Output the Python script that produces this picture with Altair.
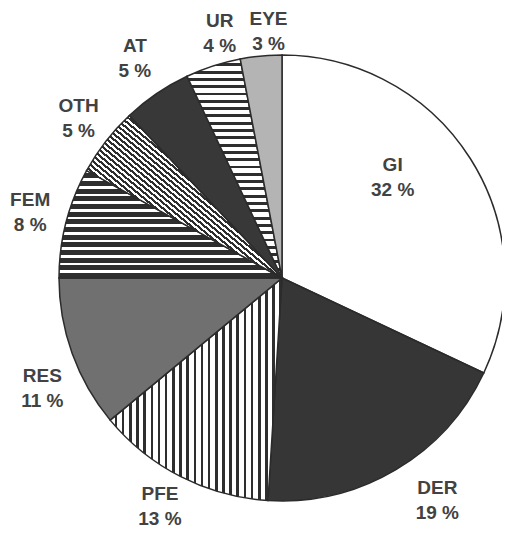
import math
import altair as alt
import pandas as pd

# ---- data ----
categories = ["GI", "DER", "PFE", "RES", "FEM", "OTH", "AT", "UR", "EYE"]
values = [32, 19, 13, 11, 8, 5, 5, 4, 3]
pct_labels = ["32 %", "19 %", "13 %", "11 %", "8 %", "5 %", "5 %", "4 %", "3 %"]

df = pd.DataFrame({
    "cat": categories,
    "value": values,
    "pct": pct_labels,
    "order": list(range(len(categories))),
})

# ---- style ----
CX, CY, R = 274, 270, 223
LINE = "#2b2b2b"
TEXT = "#424242"
FONT = "Liberation Sans"
HALF_GAP = 12.5

# label placement: radius from the centre and small nudges (dx, dy) in pixels
label_style = {
    "GI": (150, -16, -20),
    "DER": (260, 23, -1),
    "PFE": (260, -4, -3),
    "RES": (260, 5, 22),
    "FEM": (260, 0, -1),
    "OTH": (260, 2, 0),
    "AT": (260, -1, -4),
    "UR": (260, 18, 3),
    "EYE": (260, 11, 12),
}


def stripes(n, dark_frac, light="#ffffff", dark="#2e2e2e", **vec):
    stops = []
    for i in range(n):
        a = i / n
        b = (i + 1 - dark_frac) / n
        c = (i + 1) / n
        stops += [
            alt.GradientStop(offset=a, color=light),
            alt.GradientStop(offset=b, color=light),
            alt.GradientStop(offset=b, color=dark),
            alt.GradientStop(offset=c, color=dark),
        ]
    return alt.LinearGradient(gradient="linear", stops=stops, **vec)


fills = {
    "GI": "#ffffff",
    "DER": "#363636",
    "PFE": stripes(24, 0.36, x1=0, y1=0, x2=1, y2=0),
    "RES": "#707070",
    "FEM": stripes(14, 0.65, x1=0, y1=0, x2=0, y2=1),
    "OTH": stripes(58, 0.5, x1=0, y1=1, x2=1, y2=0),
    "AT": "#383838",
    "UR": stripes(30, 0.4, x1=0, y1=0, x2=0, y2=1),
    "EYE": "#b4b4b4",
}

theta_scale = alt.Scale(domain=[0, 100], range=[0, 2 * math.pi])

base = (
    alt.Chart(df)
    .transform_window(cum="sum(value)", sort=[alt.SortField("order")])
    .transform_calculate(start="datum.cum - datum.value",
                         mid="datum.cum - datum.value / 2")
)

layers = []
for c in categories:
    layers.append(
        base.transform_filter(alt.datum.cat == c)
        .mark_arc(radius=R, fill=fills[c], stroke=LINE, strokeWidth=1.5)
        .encode(
            theta=alt.Theta("start:Q", scale=theta_scale),
            theta2="cum:Q",
            x=alt.value(CX),
            y=alt.value(CY),
        )
    )

text_kw = dict(font=FONT, fontSize=19, fontWeight="bold", fill=TEXT,
               align="center", baseline="middle")

for c in categories:
    r, dx, dy = label_style[c]
    for field, off in (("cat", -HALF_GAP), ("pct", HALF_GAP)):
        layers.append(
            base.transform_filter(alt.datum.cat == c)
            .mark_text(radius=r, dx=dx, dy=dy + off, **text_kw)
            .encode(
                theta=alt.Theta("mid:Q", scale=theta_scale),
                text=f"{field}:N",
                x=alt.value(CX),
                y=alt.value(CY),
            )
        )

chart = (
    alt.layer(*layers)
    .properties(width=494, height=522, autosize="none", padding=0)
    .configure_view(stroke=None)
)

chart.save("out.html", embed_options={"renderer": "svg", "actions": False})
